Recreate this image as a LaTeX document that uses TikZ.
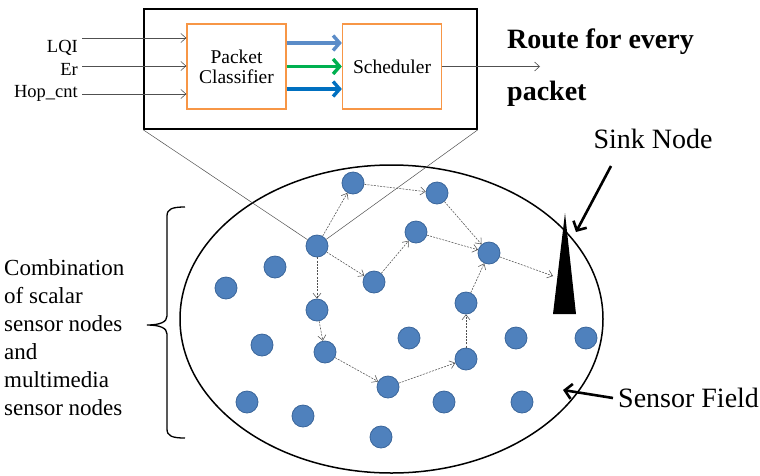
\documentclass[tikz,border=0pt]{standalone}
\usepackage{fontspec}
\setmainfont{Liberation Serif}
\usetikzlibrary{shapes.geometric,arrows.meta}
\definecolor{nodeblue}{HTML}{4F81BD}
\definecolor{nodeedge}{HTML}{3A659A}
\definecolor{boxorange}{HTML}{F79646}
\definecolor{arrgreen}{HTML}{00B050}
\definecolor{arrblue}{HTML}{0070C0}
\definecolor{arrsteel}{HTML}{5B8CC8}
\definecolor{thingray}{HTML}{505050}
\begin{document}
\begin{tikzpicture}[x=1pt,y=-1pt,
 sensor/.style={circle,fill=nodeblue,draw=nodeedge,line width=0.8pt,minimum size=22pt,inner sep=0pt},
 procbox/.style={draw=boxorange,line width=1.3pt,minimum width=99pt,minimum height=85pt,align=center,font=\fontsize{19.5}{20}\selectfont},
 hop/.style={draw=thingray,line width=0.55pt,dash pattern=on 2pt off 1.2pt,-{Straight Barb[length=5pt,width=8pt]}},
 inarrow/.style={draw=thingray,line width=0.6pt,-{Straight Barb[length=5pt,width=9pt]}},
 fat/.style={line width=3.4pt,-{Straight Barb[length=6.5pt,width=15pt]}},
 callout/.style={line width=2.6pt,-{Straight Barb[length=7pt,width=15pt]}},
 lbl/.style={font=\fontsize{28}{32}\selectfont},
 small/.style={font=\fontsize{18.5}{20}\selectfont,inner sep=0pt},
]
\useasboundingbox (0,0) rectangle (760,475);

% top box
\node[draw,line width=1.6pt,minimum width=333pt,minimum height=120pt] (topbox) at (310.5,69) {};
\node[procbox] (pc) at (236.5,66.5) {Packet\\Classifier};
\node[procbox] (sched) at (392,66.5) {Scheduler};

% inputs
\node[small,anchor=base east] (lqi) at (78,52) {LQI};
\node[small,anchor=base east] (er) at (78,75) {Er};
\node[small,anchor=base east] (hop) at (78,97) {Hop\_cnt};
\coordinate (lqiA) at (82,38);
\coordinate (erA) at (82,66);
\coordinate (hopA) at (82,94);
\draw[inarrow] (lqiA) -- (lqiA -| pc.west);
\draw[inarrow] (erA) -- (erA -| pc.west);
\draw[inarrow] (hopA) -- (hopA -| pc.west);

% coloured arrows
\draw[fat,arrsteel] ([yshift=23.5pt]pc.east) -- ([yshift=23.5pt]sched.west);
\draw[fat,arrgreen] ([yshift=0pt]pc.east) -- ([yshift=0pt]sched.west);
\draw[fat,arrblue] ([yshift=-22.5pt]pc.east) -- ([yshift=-22.5pt]sched.west);

% output
\coordinate (outp) at (540,66.5);
\draw[inarrow] (sched.east) -- (outp);
\node[anchor=west,align=left,font=\bfseries\fontsize{28}{52}\selectfont,inner sep=0pt] (route) at (507,68) {Route for every\\packet};

% sensor field
\node[draw,ellipse,line width=1.5pt,minimum width=423pt,minimum height=308pt,inner sep=0pt] (field) at (391.5,319) {};

% sensor nodes
\node[sensor] (A) at (353,183) {};
\node[sensor] (B) at (437,193) {};
\node[sensor] (C) at (317,246) {};
\node[sensor] (D) at (416,232) {};
\node[sensor] (E) at (489,253) {};
\node[sensor] (F) at (275,267) {};
\node[sensor] (G) at (226,288) {};
\node[sensor] (H) at (374,282) {};
\node[sensor] (I) at (466,303) {};
\node[sensor] (J) at (317,310) {};
\node[sensor] (L) at (262,345) {};
\node[sensor] (M) at (325,352) {};
\node[sensor] (N) at (409,338) {};
\node[sensor] (O) at (466,359) {};
\node[sensor] (P) at (516,338) {};
\node[sensor] (Q) at (586,338) {};
\node[sensor] (R) at (388,387) {};
\node[sensor] (S) at (247,402) {};
\node[sensor] (T) at (303,416) {};
\node[sensor] (U) at (444,402) {};
\node[sensor] (V) at (522,402) {};
\node[sensor] (W) at (381,437) {};

% zoom lines
\draw[thingray,line width=0.5pt] (topbox.south west) -- (C);
\draw[thingray,line width=0.5pt] (topbox.south east) -- (C);

% sink
\fill (565,213) -- (576,314) -- (553,314) -- cycle;
\coordinate (sinkin) at (553,276);

% routes
\draw[hop] (C) -- (A);
\draw[hop] (A) -- (B);
\draw[hop] (B) -- (E);
\draw[hop] (C) -- (H);
\draw[hop] (H) -- (D);
\draw[hop] (D) -- (E);
\draw[hop] (E) -- (sinkin);
\draw[hop] (C) -- (J);
\draw[hop] (J) -- (M);
\draw[hop] (M) -- (R);
\draw[hop] (R) -- (O);
\draw[hop] (O) -- (I);
\draw[hop] (I) -- (E);

% labels and callouts
\node[lbl] (sinklbl) at (653,139) {Sink Node};
\coordinate (sinkA) at (611,166);
\coordinate (sinkB) at (576,232);
\draw[callout] (sinkA) -- (sinkB);

\node[lbl,anchor=west,inner sep=0pt] (fieldlbl) at (618,398) {Sensor Field};
\coordinate (fieldB) at (563,390);
\draw[callout] ([xshift=-5pt]fieldlbl.west) -- (fieldB);

% brace and left text
\draw[line width=1.3pt] (185,207) .. controls (172,207) and (167,209) .. (167,216) -- (167,316)
  .. controls (167,322) and (160,325) .. (147,325) .. controls (160,325) and (167,328) .. (167,334)
  -- (167,429) .. controls (167,436) and (172,438) .. (185,438);
\node[anchor=west,align=left,font=\fontsize{23}{28}\selectfont,inner sep=0pt] (combo) at (4,338)
  {Combination\\of scalar\\sensor nodes\\and\\multimedia\\sensor nodes};
\end{tikzpicture}
\end{document}
